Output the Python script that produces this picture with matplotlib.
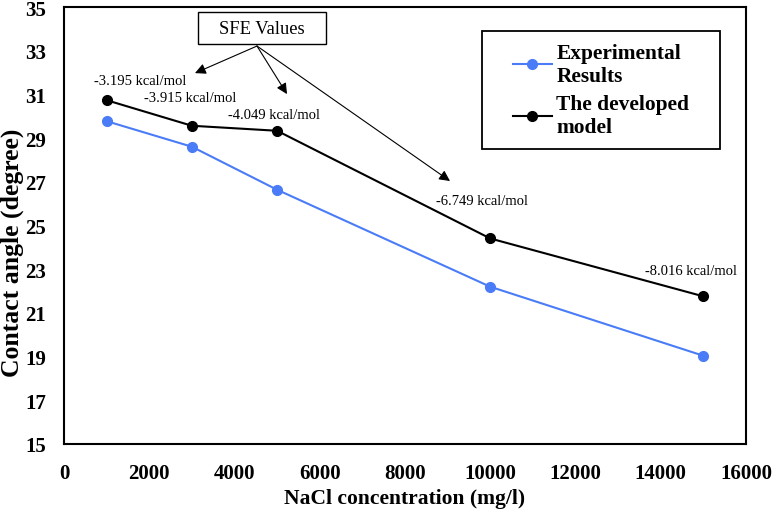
import matplotlib.pyplot as plt
from matplotlib.patches import Rectangle

conc = [1000, 3000, 5000, 10000, 15000]
experimental = [29.78, 28.61, 26.64, 22.2, 19.04]
model = [30.74, 29.57, 29.34, 24.41, 21.76]
sfe_labels = ['-3.195 kcal/mol', '-3.915 kcal/mol', '-4.049 kcal/mol',
              '-6.749 kcal/mol', '-8.016 kcal/mol']
sfe_pos = [(1783, 31.66), (2956, 30.88), (4919, 30.10), (9806, 26.13), (14702, 22.93)]

plt.rcParams['font.family'] = ['Liberation Serif', 'DejaVu Serif']
fig = plt.figure(figsize=(7.73, 5.10), dpi=100)
ax = fig.add_axes([0.0828, 0.1275, 0.8822, 0.8565])

ax.plot(conc, experimental, color='#4a7cf7', marker='o', markersize=7, lw=1.5,
        label='Experimental\nResults')
ax.plot(conc, model, color='black', marker='o', markersize=7, lw=1.5,
        label='The developed\nmodel')

for txt, (x, y) in zip(sfe_labels, sfe_pos):
    ax.text(x, y, txt, fontsize=10.5, ha='center', va='center')

# SFE Values box with arrows
ax.add_patch(Rectangle((3144, 33.31), 3003, 1.47, fc='white', ec='black', lw=1, zorder=3))
ax.text(4645, 34.04, 'SFE Values', fontsize=13.3, ha='center', va='center', zorder=4)
arrow_start = (4528, 33.22)
for end in [(3073, 31.98), (5232, 31.02), (9056, 27.04)]:
    ax.annotate('', xy=end, xytext=arrow_start,
                arrowprops=dict(arrowstyle='-|>', color='black', lw=0.8,
                                mutation_scale=16, shrinkA=0, shrinkB=0))

ax.set_xlim(0, 16000)
ax.set_ylim(15, 35)
ax.set_xticks(range(0, 16001, 2000))
ax.set_yticks(range(15, 36, 2))
ax.tick_params(length=0, labelsize=15)
ax.tick_params(axis='x', pad=14)
ax.tick_params(axis='y', pad=13)
for lab in ax.get_xticklabels() + ax.get_yticklabels():
    lab.set_fontweight('bold')
for s in ax.spines.values():
    s.set_linewidth(1.5)

ax.set_xlabel('NaCl concentration (mg/l)', fontsize=15.5, fontweight='bold', labelpad=3)
ax.set_ylabel('Contact angle (degree)', fontsize=18.5, fontweight='bold')
ax.yaxis.set_label_coords(-0.0587, 0.44)

# legend with its own frame
ax.add_patch(Rectangle((0.613, 0.675), 0.349, 0.27, transform=ax.transAxes,
                       fc='white', ec='black', lw=1.3, zorder=4))
leg = ax.legend(loc='center', bbox_to_anchor=(0.7875, 0.81), frameon=False,
                borderaxespad=0, prop={'size': 15.4, 'weight': 'bold'},
                handlelength=1.85, handletextpad=0.2, borderpad=0.2,
                labelspacing=0.4)
leg.set_zorder(5)

fig.savefig('out.png', dpi=100)
